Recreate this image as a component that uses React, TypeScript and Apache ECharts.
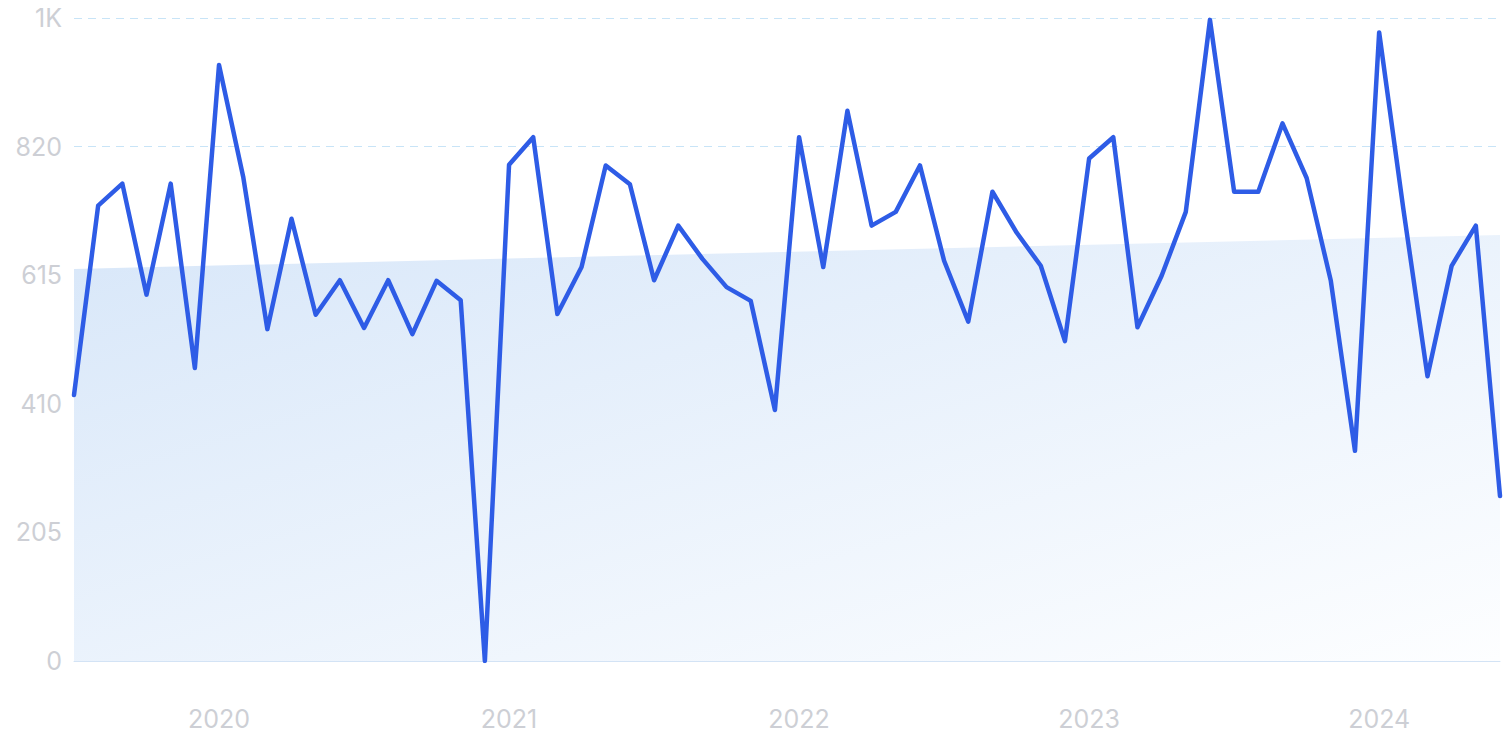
import React, { useEffect, useRef } from "react";
import * as echarts from "echarts";

const months: string[] = [
  "2019-07", "2019-08", "2019-09", "2019-10", "2019-11", "2019-12",
  "2020-01", "2020-02", "2020-03", "2020-04", "2020-05", "2020-06",
  "2020-07", "2020-08", "2020-09", "2020-10", "2020-11", "2020-12",
  "2021-01", "2021-02", "2021-03", "2021-04", "2021-05", "2021-06",
  "2021-07", "2021-08", "2021-09", "2021-10", "2021-11", "2021-12",
  "2022-01", "2022-02", "2022-03", "2022-04", "2022-05", "2022-06",
  "2022-07", "2022-08", "2022-09", "2022-10", "2022-11", "2022-12",
  "2023-01", "2023-02", "2023-03", "2023-04", "2023-05", "2023-06",
  "2023-07", "2023-08", "2023-09", "2023-10", "2023-11", "2023-12",
  "2024-01", "2024-02", "2024-03", "2024-04", "2024-05", "2024-06",
];

const searches: number[] = [
  424, 726, 761, 584, 761, 467,
  950, 772, 529, 705, 552, 607,
  531, 607, 521, 606, 575, 0,
  791, 835, 553, 628, 790, 760,
  607, 694, 641, 596, 574, 400,
  835, 628, 877, 694, 716, 790,
  638, 541, 748, 683, 630, 510,
  801, 835, 532, 614, 716, 1022,
  748, 748, 857, 770, 606, 335,
  1002, 721, 454, 630, 694, 263,
];

// Trend band: start and end levels only
const trendStart = 625;
const trendEnd = 679;
const trend: (number | null)[] = months.map((_, i) =>
  i === 0 ? trendStart : i === months.length - 1 ? trendEnd : null
);

const yTicks = { min: 0, max: 1025, interval: 205 };

export default function App() {
  const ref = useRef<HTMLDivElement>(null);
  useEffect(() => {
    if (!ref.current) return;
    const chart = echarts.init(ref.current, undefined, { renderer: "svg" });
    const labelColor = "#cdcfd5";
    chart.setOption({
      animation: false,
      grid: { left: 74, right: 5, top: 18, bottom: 91, containLabel: false },
      xAxis: {
        type: "category",
        data: months,
        boundaryGap: false,
        axisLine: { show: true, lineStyle: { color: "#d3e3f5", width: 1 } },
        axisTick: { show: false },
        splitLine: { show: false },
        axisLabel: {
          interval: (_i: number, v: string) => v.endsWith("-01"),
          formatter: (v: string) => v.slice(0, 4),
          color: labelColor,
          fontFamily: "Inter",
          fontSize: 25,
          margin: 45,
        },
      },
      yAxis: {
        type: "value",
        min: yTicks.min,
        max: yTicks.max,
        interval: yTicks.interval,
        axisLine: { show: false },
        axisTick: { show: false },
        splitLine: {
          show: true,
          lineStyle: { color: "#c8e4f7", type: [8, 6], width: 1 },
        },
        axisLabel: {
          formatter: (v: number) => (v >= 1000 ? "1K" : String(v)),
          color: labelColor,
          fontFamily: "Inter",
          fontSize: 25,
          margin: 12,
        },
      },
      series: [
        {
          type: "line",
          data: trend,
          connectNulls: true,
          symbol: "none",
          lineStyle: { width: 0, opacity: 0 },
          areaStyle: {
            opacity: 1,
            color: new echarts.graphic.LinearGradient(0, 0, 1, 1, [
              { offset: 0, color: "#d8e7f9" },
              { offset: 1, color: "#fdfeff" },
            ]),
          },
          z: 1,
          silent: true,
        },
        {
          type: "line",
          data: searches,
          symbol: "none",
          lineStyle: { color: "#2e5ce6", width: 4.5, cap: "round", join: "round" },
          z: 3,
        },
      ],
    });
    return () => chart.dispose();
  }, []);
  return (
    <div
      ref={ref}
      style={{ position: "absolute", left: 0, top: 0, width: 1505, height: 752 }}
    />
  );
}
